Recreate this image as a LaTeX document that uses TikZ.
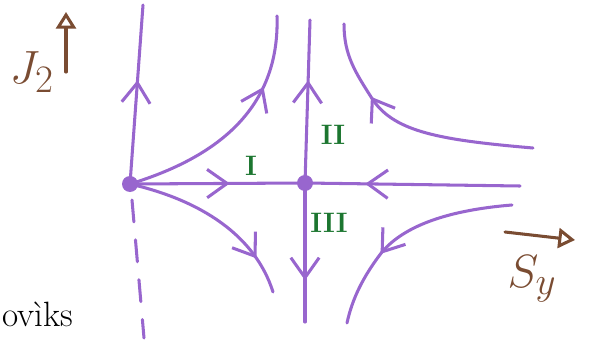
\documentclass[tikz,border=0pt]{standalone}
\usepackage{amsmath}
\usepackage{tikz}
\usetikzlibrary{arrows.meta,decorations.markings}

\definecolor{traj}{RGB}{152,102,206}
\definecolor{regiongreen}{RGB}{28,118,48}
\definecolor{axisbrown}{RGB}{122,76,50}

\tikzset{
  flow/.style={traj, line width=2.6pt, line cap=round, line join=round},
  midarrow/.style={postaction={decorate}, decoration={markings,
      mark=at position #1 with {\arrow{Straight Barb[length=6mm,width=8.5mm]}}}},
  fixpt/.style={circle, fill=traj, minimum size=4.8mm, inner sep=0pt},
  region/.style={text=regiongreen, font=\fontsize{24}{28}\selectfont\bfseries},
  axis/.style={axisbrown, line width=2.6pt, line cap=round, -{Triangle[open,length=5mm,width=6mm]}},
  axislabel/.style={text=axisbrown, font=\Huge, scale=1.6},
}

\begin{document}
\begin{tikzpicture}[x=0.03cm, y=-0.03cm]
    \useasboundingbox (0,0) rectangle (589,341);
    % fixed points
    \node[fixpt] (L) at (130,184) {};
    \node[fixpt] (M) at (305,183) {};
    \coordinate (Ltop) at (143,5);
    \coordinate (Ldash) at (132,200);
    \coordinate (Lbot) at (144,338);
    \coordinate (Mtop) at (310,20);
    \coordinate (Mbot) at (305,322);
    \coordinate (Rend) at (520,186);
    \coordinate (tl) at (277,16);
    \coordinate (bl) at (273,292);
    \coordinate (trA) at (533,148);
    \coordinate (trB) at (344,24);
    \coordinate (brA) at (512,205);
    \coordinate (brB) at (347,323);
    % straight trajectories
    \draw[flow, midarrow=0.58] (L.center) -- (Ltop);
    \draw[flow, dash pattern=on 6.6mm off 5.4mm] (Ldash) -- (Lbot);
    \draw[flow, midarrow=0.57] (L.center) -- (M.center);
    \draw[flow, midarrow=0.72] (Rend) -- (M.center);
    \draw[flow, midarrow=0.63] (M.center) -- (Mtop);
    \draw[flow, midarrow=0.70] (M.center) -- (Mbot);
    % curved trajectories
    \draw[flow, midarrow=0.70] (L.center) .. controls (215,158) and (280,110) .. (tl);
    \draw[flow, midarrow=0.80] (L.center) .. controls (200,200) and (255,235) .. (bl);
    \draw[flow, midarrow=0.69] (trA) .. controls (440,140) and (395,132) .. (373,100)
        .. controls (355,72) and (344,55) .. (trB);
    \draw[flow, midarrow=0.65] (brA) .. controls (450,210) and (405,225) .. (382,252)
        .. controls (362,278) and (352,300) .. (brB);
    % regions
    \node[region] (r1) at (251,166) {I};
    \node[region] (r2) at (333,135) {II};
    \node[region] (r3) at (329,223) {III};
    % axes
    \coordinate (jA) at (66,72);
    \coordinate (jB) at (66,12);
    \coordinate (sA) at (505,232);
    \coordinate (sB) at (575,240);
    \draw[axis] (jA) -- (jB);
    \draw[axis] (sA) -- (sB);
    \node[axislabel] (jlab) at (32,72) {$J_2$};
    \node[axislabel] (slab) at (532,279) {$S_y$};
    \node[anchor=west, font=\fontsize{30}{34}\selectfont] (word) at (-2,314) {ov\`iks};
\end{tikzpicture}
\end{document}
